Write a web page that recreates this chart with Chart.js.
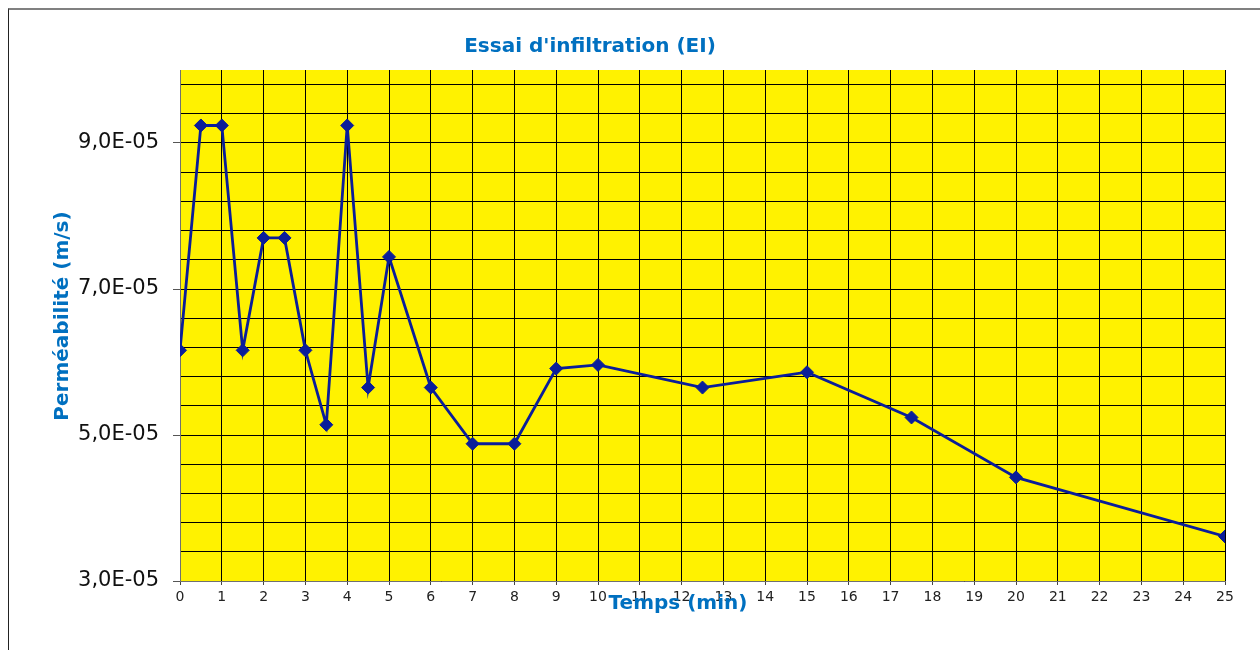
<!DOCTYPE html>
<html>
<head>
<meta charset="utf-8">
<title>Essai d'infiltration (EI)</title>
<script src="https://cdn.jsdelivr.net/npm/chart.js@4.4.0/dist/chart.umd.min.js"></script>
<style>
  html, body { margin: 0; padding: 0; background: #fff; overflow: hidden; }
  #wrap { position: relative; width: 1260px; height: 650px; }
  #frame {
    position: absolute; left: 8px; top: 8px; width: 1300px; height: 700px;
    border-top: 2px solid #808080; border-left: 1px solid #222;
  }
  #chart { position: absolute; left: 0; top: 0; }
</style>
</head>
<body>
<div id="wrap">
  <div id="frame"></div>
  <canvas id="chart" width="1260" height="650"></canvas>
</div>
<script>
// time (min)
const times = [0, 0.5, 1, 1.5, 2, 2.5, 3, 3.5, 4, 4.5, 5, 6, 7, 8, 9, 10, 12.5, 15, 17.5, 20, 25];
// permeability (m/s)
const permeability = [
  6.16e-5, 9.24e-5, 9.24e-5, 6.16e-5, 7.70e-5, 7.70e-5, 6.16e-5, 5.14e-5, 9.24e-5, 5.65e-5,
  7.44e-5, 5.65e-5, 4.88e-5, 4.88e-5, 5.91e-5, 5.96e-5, 5.65e-5, 5.86e-5, 5.24e-5, 4.42e-5, 3.61e-5
];
// labelled y ticks
const yLabelTicks = [3e-5, 5e-5, 7e-5, 9e-5];
const yMin = 3e-5, yMax = 1e-4, yStep = 4e-6;
const xMin = 0, xMax = 25, xStep = 1;

const chartTitle = "Essai d'infiltration (EI)";
const xTitle = 'Temps (min)';
const yTitle = 'Perméabilité (m/s)';

const titleColor = '#0070C0';
const lineColor = '#0a1d9a';

function isLabelled(v) {
    return yLabelTicks.some(t => Math.abs(t - v) < 1e-10);
}

function formatSci(v) {
    return (v * 1e5).toFixed(1).replace('.', ',') + 'E-05';
}

const plotBackground = {
    id: 'plotBackground',
    beforeDraw(chart) {
        const { ctx, chartArea } = chart;
        ctx.save();
        ctx.fillStyle = '#FFF200';
        ctx.fillRect(chartArea.left, chartArea.top, chartArea.right - chartArea.left, chartArea.bottom - chartArea.top);
        ctx.restore();
    }
};

const titles = {
    id: 'titles',
    afterDraw(chart) {
        const ctx = chart.ctx;
        ctx.save();
        ctx.fillStyle = titleColor;
        ctx.font = 'bold 20px "DejaVu Sans"';
        ctx.textAlign = 'center';
        ctx.textBaseline = 'middle';
        ctx.fillText(chartTitle, 590, 47);
        ctx.fillText(xTitle, 678, 604);
        ctx.translate(63, 316);
        ctx.rotate(-Math.PI / 2);
        ctx.fillText(yTitle, 0, 0);
        ctx.restore();
    }
};

const points = times.map((t, i) => ({ x: t, y: permeability[i] }));

new Chart(document.getElementById('chart'), {
    type: 'scatter',
    data: {
        datasets: [{
            data: points,
            showLine: true,
            borderColor: lineColor,
            borderWidth: 2.8,
            backgroundColor: lineColor,
            pointStyle: 'rectRot',
            pointRadius: 6.5,
            pointBorderWidth: 1,
            pointBorderColor: lineColor,
            tension: 0,
        }],
    },
    options: {
        responsive: false,
        devicePixelRatio: 1,
        animation: false,
        layout: {
            padding: { left: 8, top: 70, right: 35, bottom: 39 },
        },
        plugins: {
            legend: { display: false },
            tooltip: { enabled: false },
        },
        scales: {
            x: {
                type: 'linear',
                min: xMin,
                max: xMax,
                ticks: {
                    stepSize: xStep,
                    autoSkip: false,
                    maxRotation: 0,
                    padding: 4,
                    color: '#222',
                    font: { family: 'DejaVu Sans', size: 14 },
                },
                grid: {
                    color: '#000',
                    lineWidth: 1,
                    tickLength: 4,
                    tickColor: '#444',
                },
                border: { color: '#707070', width: 1 },
                afterFit: (scale) => { scale.height = 30; },
            },
            y: {
                type: 'linear',
                min: yMin,
                max: yMax,
                afterBuildTicks: (scale) => {
                    // gridlines every 0.4E-05 counted up from the axis minimum
                    const ticks = [];
                    for (let k = 0; yMin + k * yStep < yMax - 1e-10; k++) {
                        ticks.push({ value: Math.round((yMin + k * yStep) * 1e7) / 1e7 });
                    }
                    ticks.push({ value: yMax });
                    scale.ticks = ticks;
                },
                ticks: {
                    autoSkip: false,
                    padding: 14,
                    color: '#111',
                    font: { family: 'DejaVu Sans', size: 21 },
                    callback: (value) => isLabelled(value) ? formatSci(value) : '',
                },
                grid: {
                    color: (c) => Math.abs(c.tick.value - yMax) < 1e-10 ? 'rgba(0,0,0,0)' : '#000',
                    lineWidth: 1,
                    tickLength: 7,
                    tickColor: (c) => isLabelled(c.tick.value) ? '#555' : 'rgba(0,0,0,0)',
                },
                border: { color: '#707070', width: 1 },
                afterFit: (scale) => { scale.width = 172; },
            },
        },
    },
    plugins: [plotBackground, titles],
});
</script>
</body>
</html>
